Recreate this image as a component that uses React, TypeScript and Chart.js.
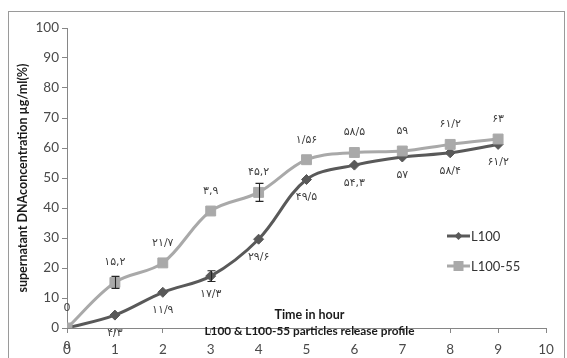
import { useEffect, useRef } from 'react';
import { Chart, registerables } from 'chart.js';

Chart.register(...registerables);

const hours = [0, 1, 2, 3, 4, 5, 6, 7, 8, 9];
const l100Values = [0, 4.3, 11.9, 17.3, 29.6, 49.5, 54.3, 57, 58.4, 61.2];
const l10055Values = [0, 15.2, 21.7, 39, 45.2, 56.1, 58.5, 59, 61.2, 63];
const l100Labels = ['0', '۴/۳', '۱۱/۹', '۱۷/۳', '۲۹/۶', '۴۹/۵', '۵۴,۳', '۵۷', '۵۸/۴', '۶۱/۲'];
const l10055Labels = ['0', '۱۵,۲', '۲۱/۷', '۳,۹', '۴۵,۲', '۱/۵۶', '۵۸/۵', '۵۹', '۶۱/۲', '۶۳'];
const l100Errors = [0, 0, 0, 1.8, 0, 0, 0, 0, 0, 0];
const l10055Errors = [0, 2, 0, 0, 3, 0, 0, 0, 0, 0];
const seriesNames = ['L100', 'L100-55'];
const xTitle1 = 'Time in hour';
const xTitle2 = 'L100 & L100-55 particles release profile';
const yTitle = 'supernatant DNAconcentration µg/ml(%)';

const DARK = '#595959';
const LIGHT = '#a9a9a9';
const AXIS = '#868686';

const overlay = {
  id: 'overlay',
  beforeDraw(chart: any) {
    const ctx = chart.ctx;
    ctx.save();
    ctx.fillStyle = '#ffffff';
    ctx.fillRect(0, 0, chart.width, chart.height);
    ctx.strokeStyle = '#9a9a9a';
    ctx.lineWidth = 1;
    ctx.strokeRect(8.5, 11.5, 556, 360);
    ctx.restore();
  },
  afterDatasetsDraw(chart: any) {
    const ctx = chart.ctx;
    const xs = chart.scales.x;
    const ys = chart.scales.y;
    const ca = chart.chartArea;
    ctx.save();

    const drawErr = (vals: number[], errs: number[]) => {
      vals.forEach((v, i) => {
        const e = errs[i];
        if (!e) return;
        const px = Math.round(xs.getPixelForValue(hours[i])) + 0.5;
        const y1 = ys.getPixelForValue(v + e);
        const y2 = ys.getPixelForValue(v - e);
        ctx.strokeStyle = '#262626';
        ctx.lineWidth = 1.1;
        ctx.beginPath();
        ctx.moveTo(px, y1);
        ctx.lineTo(px, y2);
        ctx.moveTo(px - 4, y1);
        ctx.lineTo(px + 4, y1);
        ctx.moveTo(px - 4, y2);
        ctx.lineTo(px + 4, y2);
        ctx.stroke();
      });
    };
    drawErr(l100Values, l100Errors);
    drawErr(l10055Values, l10055Errors);

    ctx.fillStyle = '#404040';
    ctx.textAlign = 'center';
    ctx.textBaseline = 'middle';
    ctx.font = '11px "DejaVu Sans"';
    l10055Values.forEach((v, i) => {
      const px = xs.getPixelForValue(hours[i]);
      const py = ys.getPixelForValue(v);
      ctx.fillText(l10055Labels[i], px, py - 20);
    });
    l100Values.forEach((v, i) => {
      const px = xs.getPixelForValue(hours[i]);
      const py = ys.getPixelForValue(v);
      ctx.fillText(l100Labels[i], px, py + 18);
    });

    const lx = ca.right - 99;
    const ly = [ca.top + 208, ca.top + 238];
    const cols = [DARK, LIGHT];
    ctx.font = '13px Lato';
    ctx.textAlign = 'left';
    seriesNames.forEach((name, k) => {
      ctx.strokeStyle = cols[k];
      ctx.lineWidth = 3;
      ctx.beginPath();
      ctx.moveTo(lx, ly[k]);
      ctx.lineTo(lx + 23, ly[k]);
      ctx.stroke();
      ctx.fillStyle = cols[k];
      const cx = lx + 11.5;
      if (k === 0) {
        ctx.beginPath();
        ctx.moveTo(cx, ly[k] - 4);
        ctx.lineTo(cx + 4, ly[k]);
        ctx.lineTo(cx, ly[k] + 4);
        ctx.lineTo(cx - 4, ly[k]);
        ctx.closePath();
        ctx.fill();
      } else {
        ctx.fillRect(cx - 5, ly[k] - 5, 10, 10);
      }
      ctx.fillStyle = '#333333';
      ctx.fillText(name, lx + 24, ly[k] + 1);
    });

    const mx = (ca.left + ca.right) / 2 + 3;
    ctx.textAlign = 'center';
    ctx.fillStyle = '#1a1a1a';
    ctx.font = 'bold 12.5px Lato';
    ctx.fillText(xTitle1, mx, ca.bottom - 13);
    ctx.font = 'bold 11.8px Lato';
    ctx.fillText(xTitle2, mx, ca.bottom + 3);

    ctx.save();
    ctx.translate(23, (ca.top + ca.bottom) / 2);
    ctx.rotate(-Math.PI / 2);
    ctx.font = 'bold 12.5px Lato';
    ctx.fillText(yTitle, 0, 0);
    ctx.restore();

    ctx.restore();
  },
};

export default function App() {
  const ref = useRef<HTMLCanvasElement | null>(null);
  useEffect(() => {
    if (!ref.current) return;
    const chart = new Chart(ref.current, {
      type: 'line',
      data: {
        datasets: [
          {
            label: seriesNames[0],
            data: hours.map((h, i) => ({ x: h, y: l100Values[i] })),
            borderColor: DARK,
            backgroundColor: DARK,
            pointStyle: 'rectRot',
            pointRadius: 5,
            pointBorderWidth: 1,
            borderWidth: 3,
            tension: 0.35,
            order: 1,
          },
          {
            label: seriesNames[1],
            data: hours.map((h, i) => ({ x: h, y: l10055Values[i] })),
            borderColor: LIGHT,
            backgroundColor: LIGHT,
            pointStyle: 'rect',
            pointRadius: 7,
            pointBorderWidth: 1,
            borderWidth: 3,
            tension: 0.35,
            order: 0,
          },
        ],
      },
      options: {
        responsive: false,
        animation: false,
        events: [],
        layout: { padding: { left: 0, top: 28, right: 21, bottom: 0 } },
        plugins: { legend: { display: false }, tooltip: { enabled: false } },
        scales: {
          x: {
            type: 'linear',
            min: 0,
            max: 10,
            afterFit: (s: any) => {
              s.height = 30;
            },
            grid: { drawOnChartArea: false, drawTicks: true, tickLength: 5, color: AXIS },
            border: { display: true, color: AXIS },
            ticks: { stepSize: 1, padding: 9, color: '#4a4a4a', font: { family: 'Lato', size: 13.5 } },
          },
          y: {
            type: 'linear',
            min: 0,
            max: 100,
            afterFit: (s: any) => {
              s.width = 67;
            },
            grid: { drawOnChartArea: false, drawTicks: true, tickLength: 5, color: AXIS },
            border: { display: true, color: AXIS },
            ticks: { stepSize: 10, padding: 3, color: '#4a4a4a', font: { family: 'Lato', size: 13.5 } },
          },
        },
      },
      plugins: [overlay],
    });
    return () => chart.destroy();
  }, []);
  return (
    <div style={{ position: 'fixed', left: 0, top: 0, width: 567, height: 358 }}>
      <canvas ref={ref} width={567} height={358} />
    </div>
  );
}
